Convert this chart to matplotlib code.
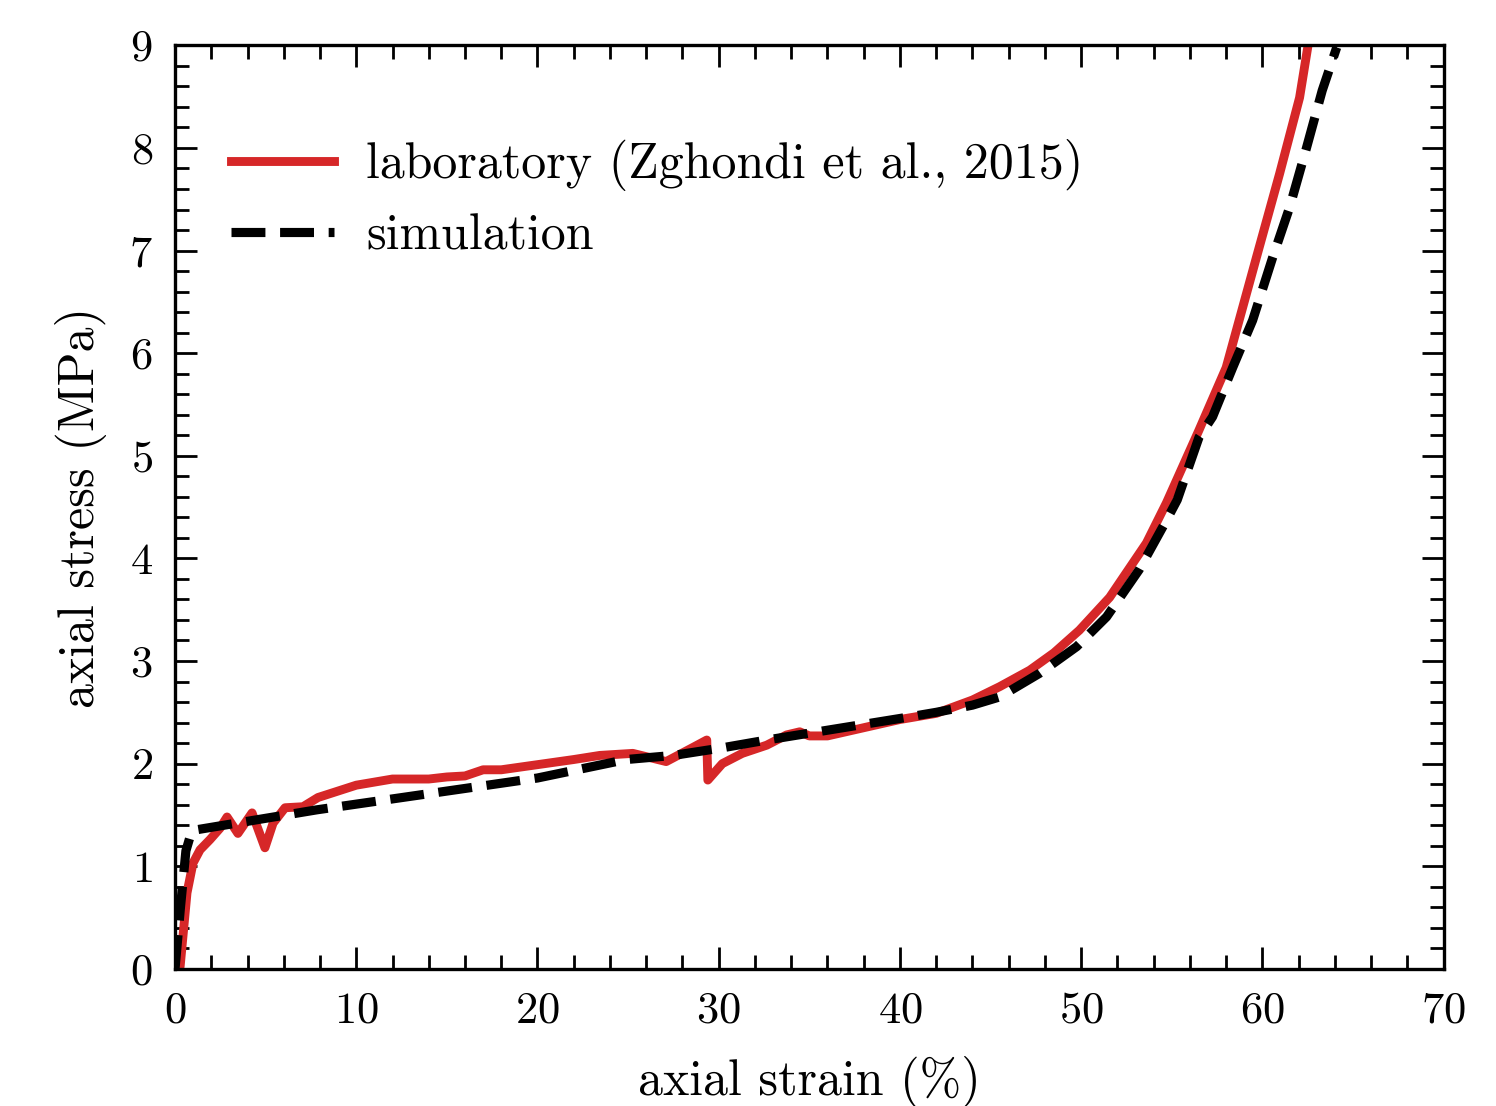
import matplotlib
matplotlib.use("Agg")
import matplotlib.pyplot as plt
from matplotlib.ticker import MultipleLocator

plt.rcParams["font.family"] = "serif"
plt.rcParams["font.serif"] = ["cmr10", "DejaVu Serif"]
plt.rcParams["mathtext.fontset"] = "cm"
plt.rcParams["axes.unicode_minus"] = False
plt.rcParams["axes.formatter.use_mathtext"] = True

# laboratory curve (Zghondi et al., 2015)
lab_strain = [0.0, 0.28, 0.66, 0.99, 1.38, 1.93, 2.48, 2.87, 3.47, 4.25, 4.96, 5.41,
              6.07, 7.06, 7.89, 10.0, 12.0, 14.0, 15.0, 16.0, 17.0, 18.0, 20.0, 22.0,
              23.44, 25.26, 27.1, 28.6, 29.34, 29.4, 30.2, 31.3, 32.65, 33.75, 34.47,
              35.0, 36.0, 38.0, 40.0, 42.0, 44.0, 45.5, 47.16, 48.5, 49.9, 51.57, 53.6,
              54.7, 56.5, 58.0, 59.68, 60.95, 62.05, 62.5]
lab_stress = [0.0, 0.02, 0.74, 1.03, 1.16, 1.26, 1.37, 1.48, 1.32, 1.52, 1.18, 1.42,
              1.57, 1.58, 1.67, 1.79, 1.85, 1.85, 1.87, 1.88, 1.94, 1.94, 1.99, 2.04,
              2.08, 2.10, 2.02, 2.16, 2.23, 1.84, 2.00, 2.10, 2.18, 2.28, 2.31,
              2.27, 2.27, 2.35, 2.43, 2.49, 2.62, 2.75, 2.91, 3.08, 3.30, 3.62, 4.15,
              4.54, 5.25, 5.86, 6.94, 7.75, 8.49, 8.98]

# simulation
sim_strain = [0.0, 0.3, 0.6, 0.9, 1.0, 7.83, 20.0, 24.9, 27.5, 30.06, 32.65, 40.0,
              42.0, 44.0, 45.5, 47.7, 49.75, 51.4, 53.2, 54.7, 55.3, 56.5, 57.25,
              58.36, 59.46, 60.56, 61.5, 62.4, 63.3, 64.1]
sim_stress = [0.0, 0.6, 1.15, 1.33, 1.35, 1.55, 1.86, 2.04, 2.08, 2.15, 2.23, 2.44,
              2.50, 2.57, 2.65, 2.88, 3.14, 3.43, 3.89, 4.37, 4.57, 5.18, 5.38,
              5.86, 6.32, 6.93, 7.42, 7.98, 8.56, 8.98]

fig = plt.figure(figsize=(7.48, 5.53), dpi=200)
ax = fig.add_axes([0.117, 0.124, 0.848, 0.835])

ax.plot(lab_strain, lab_stress, color="#d62728", lw=3.2,
        label="laboratory (Zghondi et al., 2015)", zorder=2)
ax.plot(sim_strain, sim_stress, color="black", lw=3.3, ls="--",
        label="simulation", zorder=3)

ax.set_xlim(0, 70)
ax.set_ylim(0, 9)
ax.xaxis.set_major_locator(MultipleLocator(10))
ax.xaxis.set_minor_locator(MultipleLocator(2))
ax.yaxis.set_major_locator(MultipleLocator(1))
ax.yaxis.set_minor_locator(MultipleLocator(0.2))
ax.tick_params(which="both", direction="in", top=True, right=True, labelsize=16, width=1)
ax.tick_params(which="major", length=8, pad=8)
ax.tick_params(which="minor", length=5)
for s in ax.spines.values():
    s.set_linewidth(1.2)

ax.set_xlabel("axial strain (%)", fontsize=18, labelpad=9)
ax.set_ylabel("axial stress (MPa)", fontsize=18, labelpad=8)

ax.legend(loc="upper left", bbox_to_anchor=(0.009, 0.947), frameon=False, fontsize=18,
          handlelength=2.06, handletextpad=0.64, labelspacing=0.44)

fig.savefig("out.png", dpi=200)
